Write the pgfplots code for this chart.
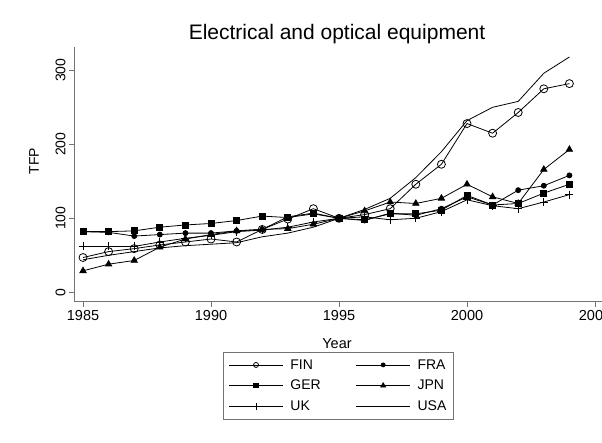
\documentclass[border=0pt]{standalone}
\usepackage{fontspec}
\setmainfont{Liberation Sans}
\usepackage{pgfplots}
\pgfplotsset{compat=1.18}
\usepackage{pgfplotstable}
\definecolor{axgray}{RGB}{115,115,115}
\pgfplotstableread{
Year FIN FRA GER JPN UK USA
1985 47 82 82 29 62 44
1986 55 81 82 38 62 50
1987 59 76 83 43 62 55
1988 64 78 88 61 68 60
1989 68 80 91 72 73 63
1990 72 80 93 78 77 65
1991 68 83 97 83 82 67
1992 85 85 103 85 84 75
1993 99 102 101 86 88 80
1994 113 107 106 92 95 88
1995 100 100 100 100 100 100
1996 105 97 98 110 102 112
1997 113 107 106 122 98 127
1998 146 104 106 120 100 155
1999 173 113 111 127 109 190
2000 228 129 131 146 125 232
2001 215 118 118 129 117 250
2002 243 138 120 120 113 258
2003 275 144 134 166 122 296
2004 282 158 146 193 132 318
}\data

\begin{document}
\begin{tikzpicture}
\begin{axis}[
  at={(74pt,141pt)}, anchor=south west,
  scale only axis, width=533.8pt, height=255pt,
  xmin=1984.648, xmax=2005.5, ymin=-13.1, ymax=331.5,
  axis x line*=bottom, axis y line*=left,
  axis line style={axgray, line width=1pt},
  xtick={1985,1990,1995,2000,2005}, ytick={0,100,200,300},
  tick align=outside, major tick length=5pt,
  tick style={axgray, line width=0.8pt},
  /pgf/number format/assume math mode=true,
  /pgf/number format/1000 sep={},
  xticklabel style={font=\fontsize{14.5}{17}\selectfont, black},
  yticklabel style={font=\fontsize{14}{17}\selectfont, black, rotate=90, anchor=south},
  title={Electrical and optical equipment},
  title style={at={(axis description cs:0.4927,1.004)}, anchor=base, font=\fontsize{21}{24}\selectfont, inner sep=0pt},
  xlabel={Year},
  xlabel style={at={(axis description cs:0.4927,-0.184)}, anchor=base, font=\fontsize{14.5}{17}\selectfont, inner sep=0pt},
  ylabel={TFP},
  ylabel style={at={(axis description cs:-0.075,0.553)}, anchor=center, font=\fontsize{14}{17}\selectfont, inner sep=0pt},
  legend columns=2,
  legend cell align=left,
  legend style={at={(axis description cs:0.4955,-0.196)}, anchor=north, draw=axgray, line width=0.8pt,
    font=\fontsize{14}{16}\selectfont, inner xsep=5pt, inner ysep=5pt, row sep=5.5pt,
    /tikz/every odd column/.append style={column sep=5pt},
    /tikz/every even column/.append style={column sep=33pt}},
  legend image code/.code={\draw[mark repeat=2,mark phase=2,#1] plot coordinates {(0pt,0pt) (27pt,0pt) (54pt,0pt)};},
]
\addplot[black, line width=0.8pt, mark=o, mark size=4pt, forget plot] table[x=Year,y=FIN]{\data};
\addplot[black, line width=0.8pt, mark=*, mark size=2.5pt, forget plot] table[x=Year,y=FRA]{\data};
\addplot[black, line width=0.8pt, mark=square*, mark size=3pt, forget plot] table[x=Year,y=GER]{\data};
\addplot[black, line width=0.8pt, mark=triangle*, mark size=3.6pt, forget plot] table[x=Year,y=JPN]{\data};
\addplot[black, line width=0.8pt, mark=+, mark size=4pt, forget plot] table[x=Year,y=UK]{\data};
\addplot[black, line width=0.8pt, no marks, forget plot] table[x=Year,y=USA]{\data};
\addlegendimage{black, line width=0.8pt, mark=o, mark size=2.5pt}
\addlegendentry{FIN}
\addlegendimage{black, line width=0.8pt, mark=*, mark size=2pt}
\addlegendentry{FRA}
\addlegendimage{black, line width=0.8pt, mark=square*, mark size=2.2pt}
\addlegendentry{GER}
\addlegendimage{black, line width=0.8pt, mark=triangle*, mark size=2.8pt}
\addlegendentry{JPN}
\addlegendimage{black, line width=0.8pt, mark=+, mark size=3.2pt}
\addlegendentry{UK}
\addlegendimage{black, line width=0.8pt}
\addlegendentry{USA}
\end{axis}
\pgfresetboundingbox
\useasboundingbox (0,0) rectangle (602pt,443pt);
\end{tikzpicture}
\end{document}
